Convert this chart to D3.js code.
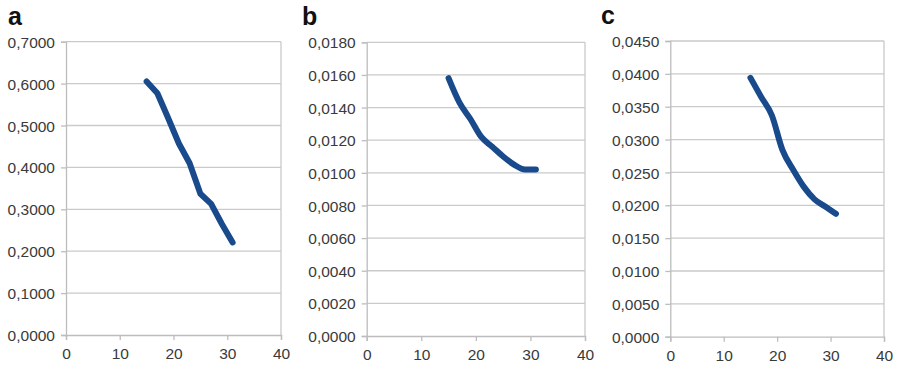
<!DOCTYPE html>
<html>
<head>
<meta charset="utf-8">
<script src="https://cdn.jsdelivr.net/npm/d3@7"></script>
<style>
  html, body { margin: 0; padding: 0; background: #fff; }
  svg { display: block; }
  .tick text { font-family: "Liberation Sans", Arial, sans-serif; font-size: 15.5px; fill: #3a3a3a; }
</style>
</head>
<body>
<svg id="chart" width="898" height="367"></svg>
<script>
// ---- data ----
const xValues = [15, 17, 19, 21, 23, 25, 27, 29, 31];
const seriesA = [0.605, 0.577, 0.518, 0.457, 0.410, 0.337, 0.313, 0.265, 0.221];
const seriesB = [0.0158, 0.0143, 0.0133, 0.0122, 0.0116, 0.0110, 0.0105, 0.0102, 0.0102];
const seriesC = [0.0394, 0.0365, 0.0337, 0.0284, 0.0254, 0.0228, 0.0209, 0.0198, 0.0187];
const xTicks = [0, 10, 20, 30, 40];
const yTicksA = [0, 0.1, 0.2, 0.3, 0.4, 0.5, 0.6, 0.7];
const yTicksB = [0, 0.002, 0.004, 0.006, 0.008, 0.010, 0.012, 0.014, 0.016, 0.018];
const yTicksC = [0, 0.005, 0.010, 0.015, 0.020, 0.025, 0.030, 0.035, 0.040, 0.045];
const panelLabels = ["a", "b", "c"];

const panels = [
  { label: panelLabels[0], values: seriesA, yTicks: yTicksA, yMax: 0.7, box: [66, 281, 41.7, 335], curve: d3.curveLinear, lx: 8, ly: 25 },
  { label: panelLabels[1], values: seriesB, yTicks: yTicksB, yMax: 0.018, box: [366.7, 585, 42.3, 336], curve: d3.curveMonotoneX, lx: 302, ly: 25 },
  { label: panelLabels[2], values: seriesC, yTicks: yTicksC, yMax: 0.045, box: [670.3, 884, 41, 336.7], curve: d3.curveMonotoneX, lx: 601, ly: 24 }
];

const svg = d3.select("#chart");
const fmt = v => d3.format(".4f")(v).replace(".", ",");
const gridColor = "#cacaca";

panels.forEach(p => {
  const [x0, x1, y0, y1] = p.box;
  const x = d3.scaleLinear().domain([0, 40]).range([x0, x1]);
  const y = d3.scaleLinear().domain([0, p.yMax]).range([y1, y0]);
  const g = svg.append("g");

  // gridlines
  g.selectAll("line.grid").data(p.yTicks.filter(t => t > 0)).enter().append("line")
    .attr("x1", x0).attr("x2", x1)
    .attr("y1", d => y(d)).attr("y2", d => y(d))
    .attr("stroke", gridColor).attr("stroke-width", 1.3);
  // right border
  g.append("line").attr("x1", x1).attr("x2", x1).attr("y1", y0).attr("y2", y1)
    .attr("stroke", gridColor).attr("stroke-width", 1.3);

  // y axis
  const ya = g.append("g").attr("transform", `translate(${x0},0)`)
    .call(d3.axisLeft(y).tickValues(p.yTicks).tickFormat(fmt).tickSize(5).tickPadding(6));
  ya.selectAll("path, line").attr("stroke", "#bdbdbd").attr("stroke-width", 1.3);
  ya.selectAll("text").attr("dy", "0.36em");

  // x axis
  const xa = g.append("g").attr("transform", `translate(0,${y1})`)
    .call(d3.axisBottom(x).tickValues(xTicks).tickFormat(d3.format("d")).tickSize(5).tickPadding(8));
  xa.selectAll("path, line").attr("stroke", "#bdbdbd").attr("stroke-width", 1.3);

  // data line
  const line = d3.line().x((d, i) => x(xValues[i])).y(d => y(d)).curve(p.curve);
  g.append("path").datum(p.values)
    .attr("d", line)
    .attr("fill", "none")
    .attr("stroke", "#184a8c")
    .attr("stroke-width", 6)
    .attr("stroke-linecap", "round")
    .attr("stroke-linejoin", "round");

  // panel label
  svg.append("text").attr("x", p.lx).attr("y", p.ly)
    .attr("font-family", "Liberation Sans, Arial, sans-serif")
    .attr("font-weight", "bold").attr("font-size", 25)
    .attr("fill", "#111").text(p.label);
});
</script>
</body>
</html>
